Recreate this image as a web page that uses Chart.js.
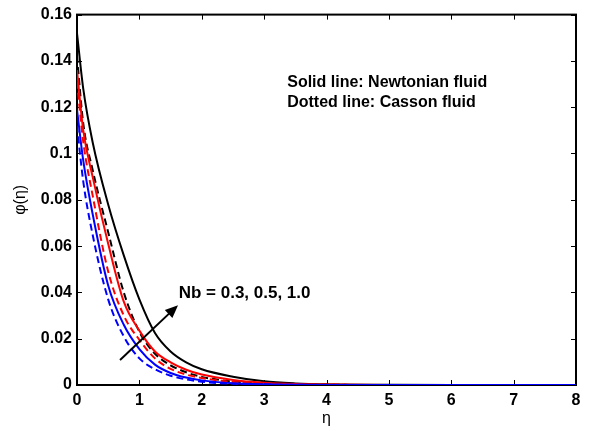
<!DOCTYPE html>
<html>
<head>
<meta charset="utf-8">
<script src="https://cdn.jsdelivr.net/npm/chart.js@4.4.1/dist/chart.umd.min.js"></script>
<style>
  html, body { margin: 0; padding: 0; background: #fff; }
  #wrap { width: 594px; height: 430px; }
</style>
</head>
<body>
<div id="wrap"><canvas id="phiChart" width="594" height="430"></canvas></div>
<script>
// eta grid and phi(eta) profiles
const eta = [0, 0.1, 0.25, 0.5, 0.75, 1, 1.25, 1.5, 1.75, 2, 2.5, 3, 3.5, 4, 5, 6, 7, 8];

// Newtonian fluid (solid lines)
const newtonNb03 = [0.119, 0.097, 0.074, 0.043, 0.026, 0.0155, 0.0088, 0.0052, 0.0032, 0.0020, 0.0008, 0.0003, 0.0001, 0, 0, 0, 0, 0];
const newtonNb05 = [0.136, 0.110, 0.090, 0.061, 0.036, 0.0235, 0.0145, 0.0098, 0.0066, 0.0045, 0.0022, 0.0010, 0.0004, 0.0002, 0, 0, 0, 0];
const newtonNb10 = [0.152, 0.128, 0.105, 0.078, 0.056, 0.037, 0.0225, 0.0145, 0.0098, 0.0068, 0.0036, 0.0016, 0.0007, 0.0003, 0.0001, 0, 0, 0];

// Casson fluid (dashed lines)
const cassonNb03 = [0.112, 0.088, 0.065, 0.037, 0.021, 0.0115, 0.0068, 0.0040, 0.0024, 0.0014, 0.0005, 0.0002, 0.0001, 0, 0, 0, 0, 0];
const cassonNb05 = [0.131, 0.105, 0.082, 0.049, 0.030, 0.0195, 0.0115, 0.0070, 0.0045, 0.0030, 0.0013, 0.0005, 0.0002, 0.0001, 0, 0, 0, 0];
const cassonNb10 = [0.142, 0.113, 0.093, 0.066, 0.040, 0.023, 0.0135, 0.0085, 0.0055, 0.0035, 0.0015, 0.0006, 0.0002, 0.0001, 0, 0, 0, 0];

const xTicks = [0, 1, 2, 3, 4, 5, 6, 7, 8];
const yTicks = [0, 0.02, 0.04, 0.06, 0.08, 0.1, 0.12, 0.14, 0.16];

const noteLines = ['Solid line: Newtonian fluid', 'Dotted line: Casson fluid'];
const arrowLabel = 'Nb = 0.3, 0.5, 1.0';

const FONT = '"Liberation Sans", Arial, sans-serif';
const toPoints = ys => ys.map((y, i) => ({ x: eta[i], y }));

function line(ys, color, dashed) {
  return {
    data: toPoints(ys),
    borderColor: color,
    borderWidth: 2,
    borderDash: dashed ? [7, 4] : [],
    pointRadius: 0,
    fill: false,
    cubicInterpolationMode: 'monotone'
  };
}

const boxAndNotes = {
  id: 'boxAndNotes',
  beforeDatasetsDraw(chart) {
    const { ctx, chartArea: a, scales: { x, y } } = chart;
    ctx.save();
    ctx.strokeStyle = '#000';
    ctx.lineWidth = 1;
    // inward ticks on all four sides
    ctx.beginPath();
    xTicks.forEach(v => {
      const px = Math.round(x.getPixelForValue(v)) + 0.5;
      ctx.moveTo(px, a.bottom); ctx.lineTo(px, a.bottom - 5);
      ctx.moveTo(px, a.top); ctx.lineTo(px, a.top + 5);
    });
    yTicks.forEach(v => {
      const py = Math.round(y.getPixelForValue(v)) + 0.5;
      ctx.moveTo(a.left, py); ctx.lineTo(a.left + 5, py);
      ctx.moveTo(a.right, py); ctx.lineTo(a.right - 5, py);
    });
    ctx.stroke();
    ctx.lineWidth = 2;
    ctx.strokeRect(a.left, a.top, a.right - a.left, a.bottom - a.top);
    ctx.restore();
  },
  afterDatasetsDraw(chart) {
    const { ctx, scales: { x, y } } = chart;
    ctx.save();
    // arrow for increasing Nb
    const x0 = x.getPixelForValue(0.69), y0 = y.getPixelForValue(0.0108);
    const x1 = x.getPixelForValue(1.62), y1 = y.getPixelForValue(0.0345);
    const ang = Math.atan2(y1 - y0, x1 - x0);
    ctx.strokeStyle = '#000';
    ctx.fillStyle = '#000';
    ctx.lineWidth = 2;
    ctx.beginPath();
    ctx.moveTo(x0, y0);
    ctx.lineTo(x1 - 8 * Math.cos(ang), y1 - 8 * Math.sin(ang));
    ctx.stroke();
    ctx.beginPath();
    ctx.moveTo(x1, y1);
    ctx.lineTo(x1 - 13 * Math.cos(ang) + 5.5 * Math.sin(ang), y1 - 13 * Math.sin(ang) - 5.5 * Math.cos(ang));
    ctx.lineTo(x1 - 13 * Math.cos(ang) - 5.5 * Math.sin(ang), y1 - 13 * Math.sin(ang) + 5.5 * Math.cos(ang));
    ctx.closePath();
    ctx.fill();

    ctx.textBaseline = 'middle';
    ctx.textAlign = 'left';
    ctx.font = 'bold 17px ' + FONT;
    ctx.fillText(arrowLabel, x.getPixelForValue(1.63), y.getPixelForValue(0.0395));
    ctx.font = 'bold 16px ' + FONT;
    ctx.fillText(noteLines[0], x.getPixelForValue(3.37), y.getPixelForValue(0.1306));
    ctx.fillText(noteLines[1], x.getPixelForValue(3.37), y.getPixelForValue(0.1220));

    // axis titles
    ctx.font = '16px ' + FONT;
    ctx.textAlign = 'center';
    ctx.fillText('η', (chart.chartArea.left + chart.chartArea.right) / 2, 419);
    ctx.translate(21, (chart.chartArea.top + chart.chartArea.bottom) / 2);
    ctx.rotate(-Math.PI / 2);
    ctx.fillText('φ(η)', 0, 0);
    ctx.restore();
  }
};

new Chart(document.getElementById('phiChart'), {
  type: 'line',
  data: {
    datasets: [
      line(cassonNb03, '#0000ff', true),
      line(newtonNb03, '#0000ff', false),
      line(cassonNb05, '#ff0000', true),
      line(newtonNb05, '#ff0000', false),
      line(cassonNb10, '#000000', true),
      line(newtonNb10, '#000000', false)
    ]
  },
  options: {
    responsive: false,
    animation: false,
    events: [],
    layout: { padding: { top: 14, right: 18, left: 0, bottom: 0 } },
    plugins: { legend: { display: false }, tooltip: { enabled: false } },
    scales: {
      x: {
        type: 'linear',
        min: 0,
        max: 8,
        afterFit(scale) { scale.height = 45; },
        afterBuildTicks(scale) { scale.ticks = xTicks.map(value => ({ value })); },
        grid: { display: false, drawTicks: false },
        border: { display: false },
        ticks: {
          color: '#000',
          padding: 6,
          maxRotation: 0,
          font: { family: FONT, size: 16, weight: 'bold' }
        }
      },
      y: {
        min: 0,
        max: 0.16,
        afterFit(scale) { scale.width = 77; },
        afterBuildTicks(scale) { scale.ticks = yTicks.map(value => ({ value })); },
        grid: { display: false, drawTicks: false },
        border: { display: false },
        ticks: {
          color: '#000',
          padding: 5,
          callback: v => String(parseFloat(v.toFixed(2))),
          font: { family: FONT, size: 16, weight: 'bold' }
        }
      }
    }
  },
  plugins: [boxAndNotes]
});
</script>
</body>
</html>
